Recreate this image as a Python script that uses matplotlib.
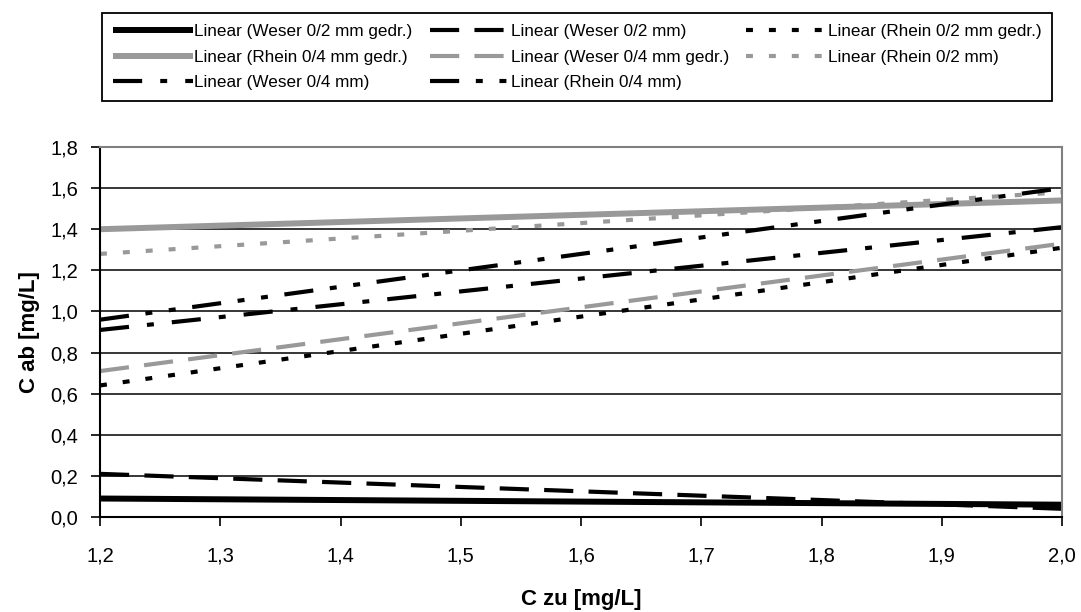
import numpy as np
import matplotlib
matplotlib.use("Agg")
import matplotlib.pyplot as plt
from matplotlib.ticker import FuncFormatter, MultipleLocator

plt.rcParams['font.family'] = ['Liberation Sans', 'DejaVu Sans']
plt.rcParams['lines.scale_dashes'] = False

# trend line end points (x = C zu)
x = [1.2, 2.0]
weser_02_gedr = [0.09, 0.06]
weser_02 = [0.21, 0.04]
rhein_02_gedr = [0.64, 1.31]
rhein_04_gedr = [1.40, 1.54]
weser_04_gedr = [0.71, 1.33]
rhein_02 = [1.28, 1.58]
weser_04 = [0.91, 1.41]
rhein_04 = [0.96, 1.60]

grey = '#999999'

fig = plt.figure(figsize=(10.81, 6.12), dpi=100)
ax = fig.add_axes([0.0925, 0.1552, 0.890, 0.6046])

h = {}
h['w02g'], = ax.plot(x, weser_02_gedr, color='black', lw=4.3, solid_capstyle='butt',
                     label='Linear (Weser 0/2 mm gedr.)')
h['w02'], = ax.plot(x, weser_02, color='black', lw=3, dashes=(21, 11),
                    label='Linear (Weser 0/2 mm)')
h['r02g'], = ax.plot(x, rhein_02_gedr, color='black', lw=3, dashes=(5, 11.5),
                     label='Linear (Rhein 0/2 mm gedr.)')
h['r04g'], = ax.plot(x, rhein_04_gedr, color=grey, lw=4.3, solid_capstyle='butt',
                     label='Linear (Rhein 0/4 mm gedr.)')
h['w04g'], = ax.plot(x, weser_04_gedr, color=grey, lw=3, dashes=(21, 11),
                     label='Linear (Weser 0/4 mm gedr.)')
h['r02'], = ax.plot(x, rhein_02, color=grey, lw=3, dashes=(5, 11.5),
                    label='Linear (Rhein 0/2 mm)')
h['w04'], = ax.plot(x, weser_04, color='black', lw=3, dashes=(21, 13, 5, 13),
                    label='Linear (Weser 0/4 mm)')
h['r04'], = ax.plot(x, rhein_04, color='black', lw=3, dashes=(21, 12, 5, 12, 5, 12),
                    label='Linear (Rhein 0/4 mm)')

ax.axis([1.2, 2.0, 0, 1.8])
ax.xaxis.set_major_locator(MultipleLocator(0.1))
ax.yaxis.set_major_locator(MultipleLocator(0.2))
comma = FuncFormatter(lambda v, p: f'{v:.1f}'.replace('.', ','))
ax.xaxis.set_major_formatter(comma)
ax.yaxis.set_major_formatter(comma)
ax.tick_params(direction='out', length=6.5, width=1.2, labelsize=14.5)
ax.tick_params(axis='y', pad=9)
ax.tick_params(axis='x', pad=15)
ax.grid(axis='y', color='black', lw=1.1)
ax.set_axisbelow(True)
for s in ['top', 'right']:
    ax.spines[s].set_color('#808080')
    ax.spines[s].set_linewidth(1.5)
for s in ['left', 'bottom']:
    ax.spines[s].set_linewidth(1.5)
ax.set_xlabel('C zu [mg/L]', fontsize=16, fontweight='bold', va='center')
ax.set_ylabel('C ab [mg/L]', fontsize=16, fontweight='bold', va='center')
ax.xaxis.set_label_coords(0.5, -0.224)
ax.yaxis.set_label_coords(-0.0728, 0.5)

order = ['w02g', 'r04g', 'w04', 'w02', 'w04g', 'r04', 'r02g', 'r02']
leg = fig.legend([h[k] for k in order], [h[k].get_label() for k in order],
                 loc='upper left', bbox_to_anchor=(0.0944, 0.837, 0.879, 0.142),
                 mode='expand', ncol=3, fontsize=12.3, handlelength=4.7,
                 handletextpad=0.05, labelspacing=0.62, borderaxespad=0,
                 borderpad=0.65, columnspacing=1.0,
                 fancybox=False, edgecolor='black', framealpha=1)
leg.get_frame().set_linewidth(1.3)

fig.savefig('out.png', dpi=100)
